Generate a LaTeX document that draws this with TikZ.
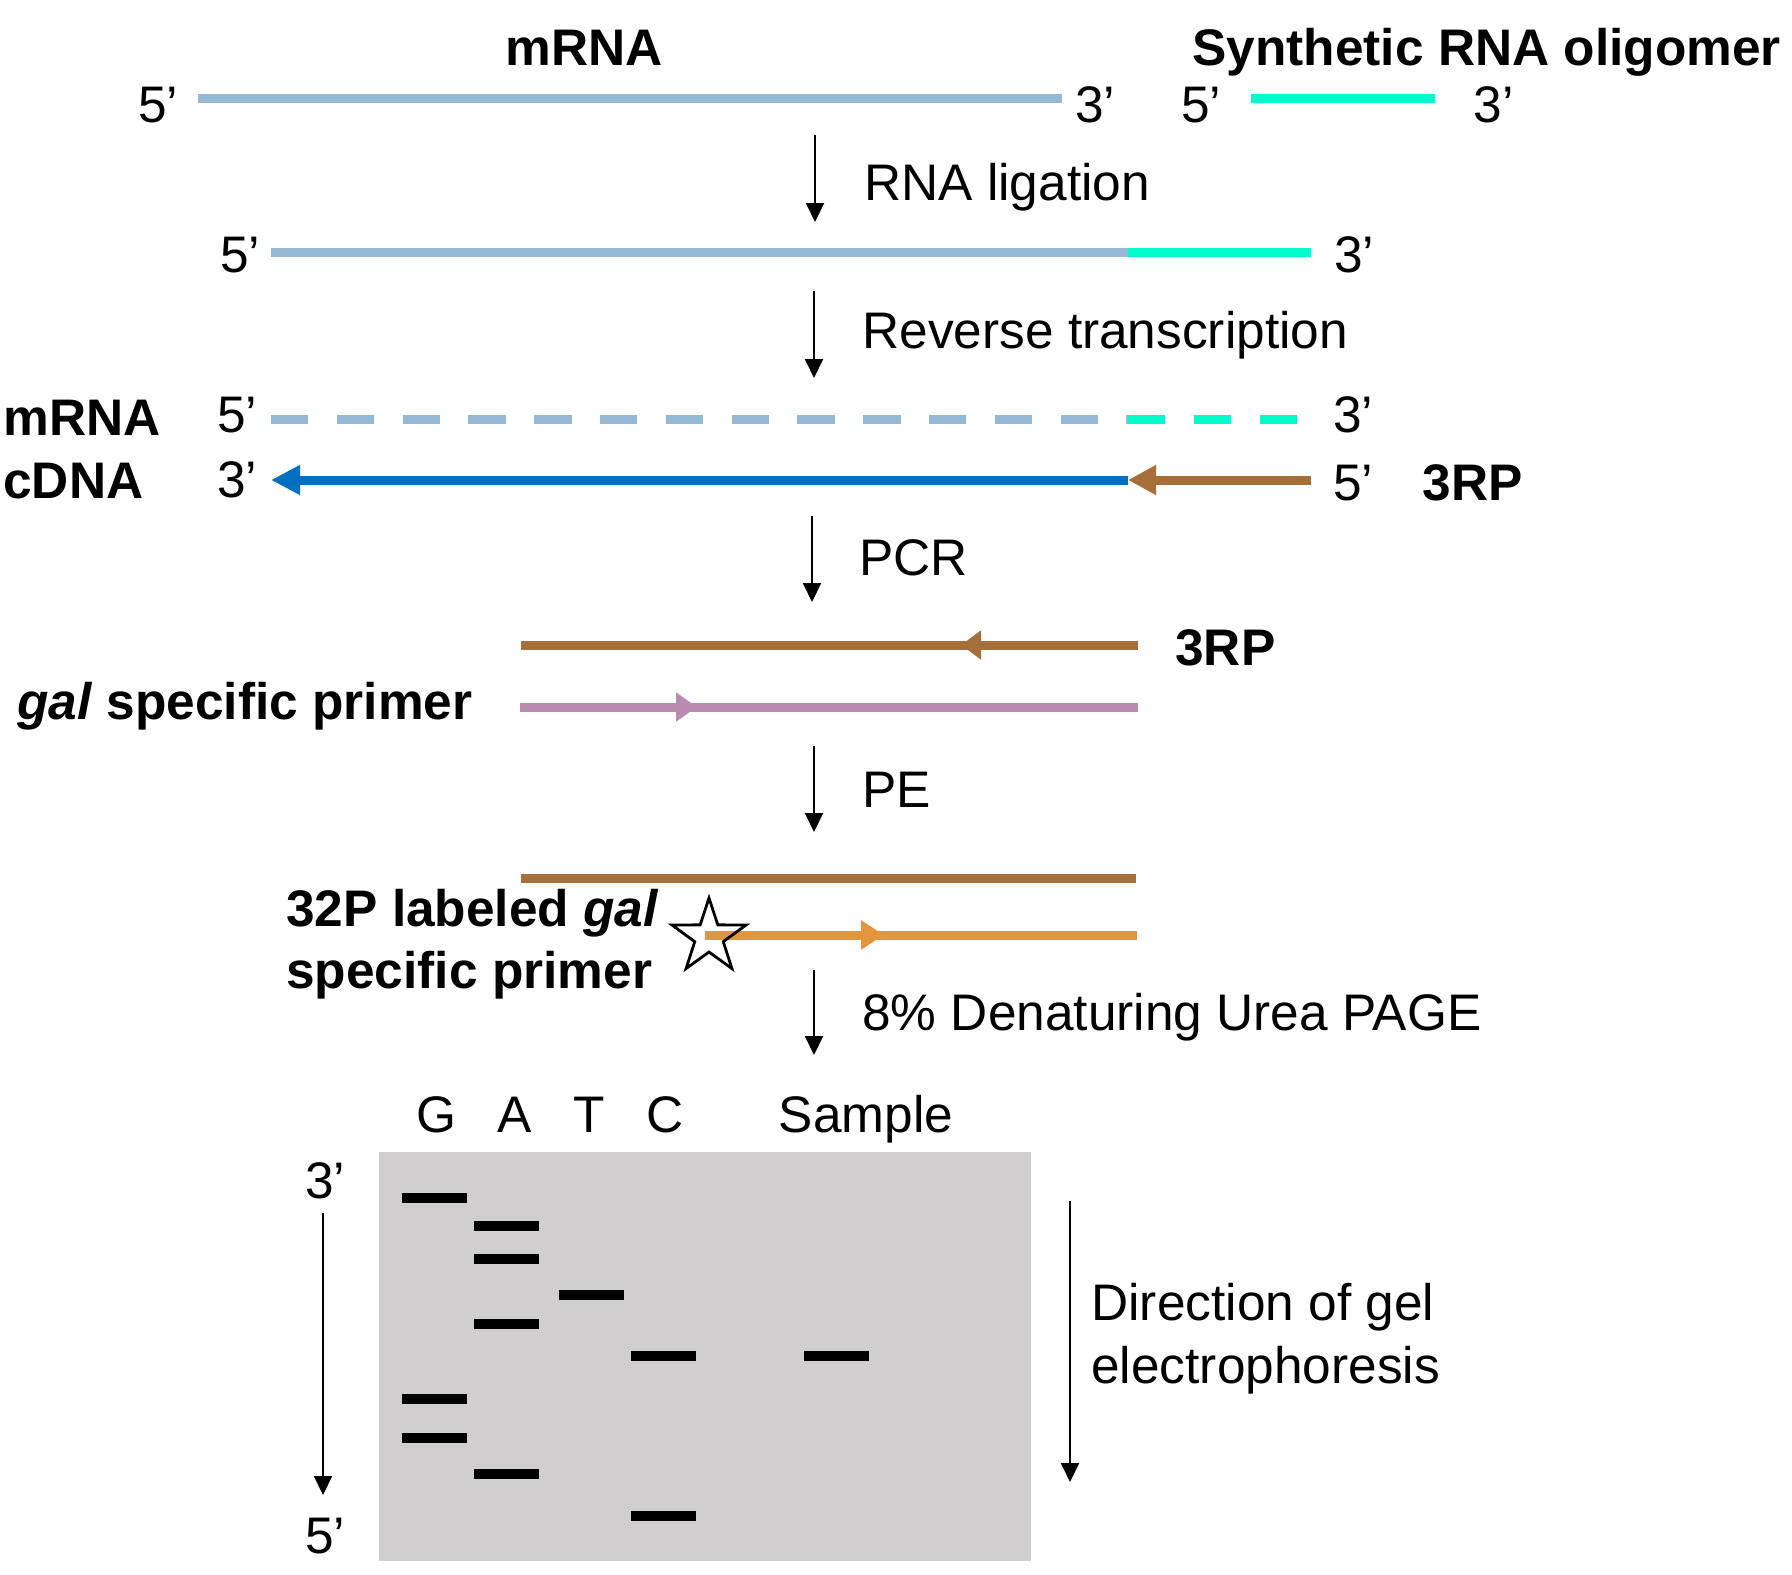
\documentclass[tikz,border=0pt]{standalone}
\usepackage{fontspec}
\setmainfont{Liberation Sans}
\usetikzlibrary{arrows.meta, positioning, shapes.geometric}

\definecolor{rnablue}{HTML}{95B9D5}
\definecolor{oligoteal}{HTML}{00FACA}
\definecolor{cdnablue}{HTML}{0070C0}
\definecolor{primerbrown}{HTML}{A66F3A}
\definecolor{galpink}{HTML}{BA8BB0}
\definecolor{hotorange}{HTML}{E4963C}
\definecolor{gelgray}{HTML}{D0CECE}

\begin{document}
\begin{tikzpicture}[
			x=0.5pt, y=-0.5pt,
			every node/.style={font=\fontsize{25.7}{31}\selectfont, inner sep=0pt, anchor=base west},
			bold/.style={font=\fontsize{25.7}{31}\selectfont\bfseries},
			strand/.style={line width=4.5pt},
			dashstrand/.style={line width=4.5pt, dash pattern=on 18.65pt off 14.25pt},
			steparrow/.style={-{Triangle[length=9.5pt, width=9pt]}, line width=1pt},
			endtip/.style={-{Triangle[length=14.5pt, width=14pt]}},
			midtip/.style={-{Triangle[length=#1, width=14pt]}},
			band/.style={line width=4.65pt}
			]

			\useasboundingbox (0,0) rectangle (1792,1574);

			% titles
			\node[bold, anchor=base] (mrnatitle) at (584,65) {mRNA};
			\node[bold] (oligotitle) at (1192,65) {Synthetic RNA oligomer};

			% row 1: mRNA and oligomer
			\coordinate (m1s) at (198,98);
			\coordinate (m1e) at (1062,98);
			\coordinate (o1s) at (1251,98);
			\coordinate (o1e) at (1435,98);
			\node (m1five) at (138,122) {5’};
			\node (m1three) at (1075,122) {3’};
			\node (o1five) at (1181,122) {5’};
			\node (o1three) at (1473,122) {3’};
			\draw[strand, rnablue] (m1s) -- (m1e);
			\draw[strand, oligoteal] (o1s) -- (o1e);

			\coordinate (a1s) at (815,135);
			\coordinate (a1e) at (815,222);
			\draw[steparrow] (a1s) -- (a1e);
			\node (ligation) at (864,200) {RNA ligation};

			% row 2: ligated
			\coordinate (m2s) at (271,252);
			\coordinate (lig2) at (1128,252);
			\coordinate (m2e) at (1311,252);
			\node (m2five) at (220,272) {5’};
			\node (m2three) at (1334,272) {3’};
			\draw[strand, rnablue] (m2s) -- (lig2);
			\draw[strand, oligoteal] (lig2) -- (m2e);

			\coordinate (a2s) at (814,291);
			\coordinate (a2e) at (814,378);
			\draw[steparrow] (a2s) -- (a2e);
			\node (rt) at (862,348) {Reverse transcription};

			% rows 3-4: mRNA / cDNA
			\coordinate (m3s) at (271,419);
			\coordinate (lig3) at (1128,419);
			\coordinate (m3e) at (1297,419);
			\node[bold] (mrnalbl) at (3,435) {mRNA};
			\node (m3five) at (217,432) {5’};
			\node (m3three) at (1333,432) {3’};
			\draw[dashstrand, rnablue] (m3s) -- (lig3);
			\draw[dashstrand, oligoteal] (lig3) -- (m3e);

			\coordinate (c4s) at (271,480);
			\coordinate (lig4) at (1128,480);
			\coordinate (c4e) at (1311,480);
			\node[bold] (cdnalbl) at (3,498) {cDNA};
			\node (c4three) at (217,497) {3’};
			\node (c4five) at (1333,500) {5’};
			\node[bold] (rp4) at (1422,500) {3RP};
			\draw[strand, cdnablue, endtip] (lig4) -- (c4s);
			\draw[strand, primerbrown, midtip=14pt] (c4e) -- (lig4);

			\coordinate (a3s) at (812,516);
			\coordinate (a3e) at (812,602);
			\draw[steparrow] (a3s) -- (a3e);
			\node (pcr) at (859,575) {PCR};

			% rows 5-6: PCR
			\coordinate (p5s) at (521,645);
			\coordinate (p5t) at (961,645);
			\coordinate (p5e) at (1138,645);
			\draw[strand, primerbrown] (p5s) -- (p5e);
			\draw[strand, primerbrown, midtip=10pt] (p5e) -- (p5t);
			\node[bold] (rp5) at (1175,665) {3RP};

			\coordinate (g6s) at (520,707);
			\coordinate (g6t) at (697,707);
			\coordinate (g6e) at (1138,707);
			\draw[strand, galpink] (g6s) -- (g6e);
			\draw[strand, galpink, midtip=10.5pt] (g6s) -- (g6t);
			\node[bold] (galprimer) at (17,719) {\textit{gal} specific primer};

			\coordinate (a4s) at (814,746);
			\coordinate (a4e) at (814,832);
			\draw[steparrow] (a4s) -- (a4e);
			\node (pe) at (862,807) {PE};

			% rows 7-8: primer extension
			\coordinate (p7s) at (521,878);
			\coordinate (p7e) at (1136,878);
			\draw[strand, primerbrown] (p7s) -- (p7e);

			\coordinate (o8s) at (705,935);
			\coordinate (o8t) at (884,935);
			\coordinate (o8e) at (1137,935);
			\draw[strand, hotorange] (o8s) -- (o8e);
			\draw[strand, hotorange, midtip=11.5pt] (o8s) -- (o8t);
			\node[star, star points=5, star point ratio=2.6, draw, line width=1.4pt, minimum size=39pt, anchor=center] (label32p) at (709,937) {};
			\node[bold] (hot1) at (286,926) {32P labeled \textit{gal}};
			\node[bold] (hot2) at (286,988) {specific primer};

			\coordinate (a5s) at (814,970);
			\coordinate (a5e) at (814,1055);
			\draw[steparrow] (a5s) -- (a5e);
			\node (page) at (862,1030) {8\% Denaturing Urea PAGE};

			% gel
			\fill[gelgray] (379,1152) rectangle (1031,1561);
			\foreach \lane/\lx in {G/436, A/515, T/589, C/665}
				\node[anchor=base] (lane\lane) at (\lx,1132) {\lane};
			\node[anchor=base] (lanesample) at (866,1132) {Sample};
			\foreach \bx/\by in {434.5/1198, 506.5/1226, 506.5/1259, 591/1295, 506.5/1324, 663/1356, 836.5/1356, 434.5/1399, 434.5/1438, 506.5/1474, 663/1516}
				\draw[band] (\bx-32.5,\by) -- (\bx+32.5,\by);

			\node (gelthree) at (305,1198) {3’};
			\node (gelfive) at (305,1553) {5’};
			\coordinate (gl1) at (323,1213);
			\coordinate (gl2) at (323,1495);
			\draw[steparrow] (gl1) -- (gl2);

			\coordinate (gr1) at (1070,1201);
			\coordinate (gr2) at (1070,1482);
			\draw[steparrow] (gr1) -- (gr2);
			\node (dir1) at (1091,1320) {Direction of gel};
			\node (dir2) at (1091,1383) {electrophoresis};

		\end{tikzpicture}
\end{document}
